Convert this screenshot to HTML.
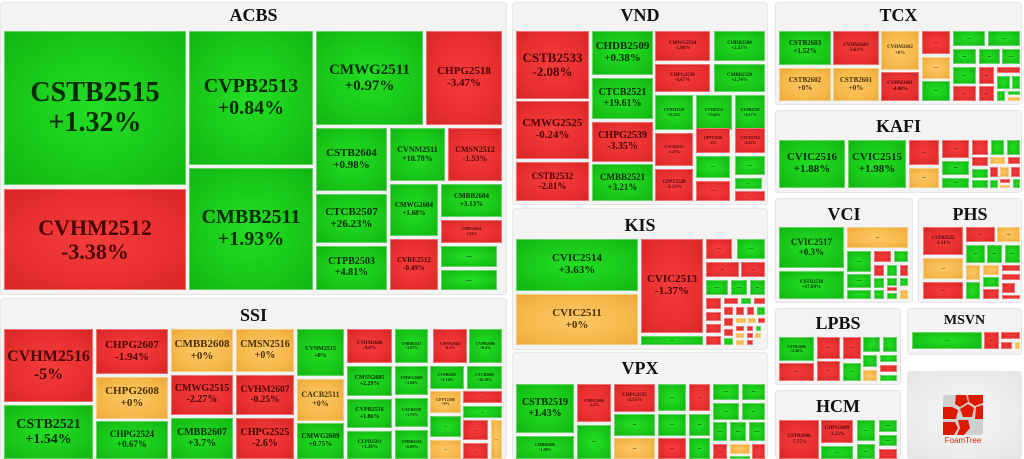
<!DOCTYPE html>
<html><head><meta charset="utf-8"><style>
body{margin:0;width:1024px;height:459px;background:#fff;position:relative;overflow:hidden;font-family:"Liberation Serif",serif;font-weight:bold}
.p{position:absolute;background:#f3f3f3;border:1px solid #e6e6e6;border-radius:3px;box-sizing:border-box}
.t{position:absolute;text-align:center;font-size:18px;color:#111;line-height:20px}
.c{position:absolute;display:flex;align-items:center;justify-content:center;text-align:center;line-height:1.08;box-sizing:border-box;border:1px solid rgba(255,255,255,.35);font-size:5px;overflow:hidden;white-space:nowrap}
.g{background:radial-gradient(ellipse at center,#24de24 0%,#19c819 60%,#12b512 100%);color:#042a04}
.r{background:radial-gradient(ellipse at center,#f43c3c 0%,#e83030 60%,#d92626 100%);color:#4a0505}
.y{background:radial-gradient(ellipse at center,#fdc866 0%,#f6b94c 60%,#eeaa3c 100%);color:#4a3005}
</style></head><body>
<!-- panels -->
<div class="p" style="left:0;top:2px;width:507px;height:293px"></div>
<div class="t" style="left:0;top:5px;width:507px">ACBS</div>
<div class="p" style="left:0;top:298px;width:507px;height:161px"></div>
<div class="t" style="left:0;top:305px;width:507px">SSI</div>
<div class="p" style="left:512px;top:2px;width:256px;height:203px"></div>
<div class="t" style="left:512px;top:5px;width:256px">VND</div>
<div class="p" style="left:512px;top:208px;width:256px;height:142px"></div>
<div class="t" style="left:512px;top:215px;width:256px">KIS</div>
<div class="p" style="left:512px;top:352px;width:256px;height:107px"></div>
<div class="t" style="left:512px;top:358px;width:256px">VPX</div>
<div class="p" style="left:775px;top:2px;width:247px;height:103px"></div>
<div class="t" style="left:775px;top:5px;width:247px">TCX</div>
<div class="p" style="left:775px;top:110px;width:247px;height:83px"></div>
<div class="t" style="left:775px;top:116px;width:247px">KAFI</div>
<div class="p" style="left:775px;top:198px;width:138px;height:105px"></div>
<div class="t" style="left:775px;top:204px;width:138px">VCI</div>
<div class="p" style="left:918px;top:198px;width:104px;height:105px"></div>
<div class="t" style="left:918px;top:204px;width:104px">PHS</div>
<div class="p" style="left:775px;top:308px;width:126px;height:77px"></div>
<div class="t" style="left:775px;top:313px;width:126px">LPBS</div>
<div class="p" style="left:907px;top:308px;width:115px;height:47px"></div>
<div class="t" style="left:907px;top:311px;width:115px;font-size:14px">MSVN</div>
<div class="p" style="left:775px;top:390px;width:126px;height:69px"></div>
<div class="t" style="left:775px;top:396px;width:126px">HCM</div>
<div class="p" style="left:907px;top:371px;width:115px;height:88px;background:radial-gradient(ellipse at center,#f6f6f6,#e6e6e6)"></div>

<!-- ACBS -->
<div class="c g" style="left:4px;top:31px;width:182px;height:154px;font-size:28px">CSTB2515<br>+1.32%</div>
<div class="c r" style="left:4px;top:189px;width:182px;height:101px;font-size:22px">CVHM2512<br>-3.38%</div>
<div class="c g" style="left:189px;top:31px;width:124px;height:134px;font-size:20px">CVPB2513<br>+0.84%</div>
<div class="c g" style="left:189px;top:168px;width:124px;height:122px;font-size:20px">CMBB2511<br>+1.93%</div>
<div class="c g" style="left:316px;top:31px;width:107px;height:94px;font-size:15px">CMWG2511<br>+0.97%</div>
<div class="c r" style="left:426px;top:31px;width:76px;height:94px;font-size:11px">CHPG2518<br>-3.47%</div>
<div class="c g" style="left:316px;top:128px;width:71px;height:63px;font-size:11px">CSTB2604<br>+0.98%</div>
<div class="c g" style="left:390px;top:128px;width:55px;height:53px;font-size:8px">CVNM2511<br>+10.78%</div>
<div class="c r" style="left:448px;top:128px;width:54px;height:53px;font-size:8px">CMSN2512<br>-1.53%</div>
<div class="c g" style="left:316px;top:194px;width:71px;height:49px;font-size:11px">CTCB2507<br>+26.23%</div>
<div class="c g" style="left:316px;top:246px;width:71px;height:44px;font-size:10px">CTPB2503<br>+4.81%</div>
<div class="c g" style="left:390px;top:184px;width:48px;height:52px;font-size:7px">CMWG2604<br>+1.68%</div>
<div class="c r" style="left:390px;top:239px;width:48px;height:51px;font-size:7px">CVRE2512<br>-0.49%</div>
<div class="c g" style="left:441px;top:184px;width:61px;height:33px;font-size:7px">CMBB2604<br>+3.13%</div>
<div class="c r" style="left:441px;top:220px;width:61px;height:23px;font-size:4px">CHPG2604<br>-5.16%</div>
<div class="c g" style="left:441px;top:246px;width:56px;height:21px;font-size:6px">...</div>
<div class="c g" style="left:441px;top:270px;width:56px;height:20px;font-size:6px">...</div>

<!-- SSI -->
<div class="c r" style="left:4px;top:329px;width:89px;height:73px;font-size:16px">CVHM2516<br>-5%</div>
<div class="c g" style="left:4px;top:405px;width:89px;height:54px;font-size:14px">CSTB2521<br>+1.54%</div>
<div class="c r" style="left:96px;top:329px;width:72px;height:45px;font-size:11px">CHPG2607<br>-1.94%</div>
<div class="c y" style="left:96px;top:377px;width:72px;height:42px;font-size:11px">CHPG2608<br>+0%</div>
<div class="c g" style="left:96px;top:421px;width:72px;height:38px;font-size:9px">CHPG2524<br>+0.67%</div>
<div class="c y" style="left:171px;top:329px;width:62px;height:43px;font-size:11px">CMBB2608<br>+0%</div>
<div class="c r" style="left:171px;top:375px;width:62px;height:40px;font-size:10px">CMWG2515<br>-2.27%</div>
<div class="c g" style="left:171px;top:418px;width:62px;height:41px;font-size:10px">CMBB2607<br>+3.7%</div>
<div class="c y" style="left:236px;top:329px;width:58px;height:43px;font-size:10px">CMSN2516<br>+0%</div>
<div class="c r" style="left:236px;top:375px;width:58px;height:40px;font-size:9.5px">CVHM2607<br>-0.25%</div>
<div class="c r" style="left:236px;top:418px;width:58px;height:41px;font-size:10px">CHPG2525<br>-2.6%</div>
<div class="c g" style="left:297px;top:329px;width:47px;height:47px;font-size:6px">CVNM2515<br>+0%</div>
<div class="c y" style="left:297px;top:379px;width:47px;height:42px;font-size:8px">CACB2511<br>+0%</div>
<div class="c g" style="left:297px;top:423px;width:47px;height:36px;font-size:7px">CMWG2609<br>+0.75%</div>
<div class="c r" style="left:347px;top:329px;width:45px;height:34px">CVHM2606<br>-9.6%</div>
<div class="c g" style="left:347px;top:366px;width:45px;height:30px;font-size:6px">CMSN2605<br>+2.29%</div>
<div class="c g" style="left:347px;top:399px;width:45px;height:29px;font-size:6px">CVPB2516<br>+1.86%</div>
<div class="c g" style="left:347px;top:431px;width:45px;height:28px">CLPB2503<br>+1.38%</div>
<div class="c g" style="left:395px;top:329px;width:33px;height:34px;font-size:4px">CMBB2517<br>+3.07%</div>
<div class="c g" style="left:395px;top:366px;width:33px;height:29px;font-size:4px">CMWG2608<br>+1.64%</div>
<div class="c g" style="left:395px;top:398px;width:33px;height:29px;font-size:4px">CACB2510<br>+1.75%</div>
<div class="c g" style="left:395px;top:430px;width:33px;height:29px;font-size:4px">CMBB2516<br>+6.09%</div>
<div class="c r" style="left:433px;top:329px;width:34px;height:34px;font-size:4px">CMSN2604<br>-6.3%</div>
<div class="c g" style="left:469px;top:329px;width:33px;height:34px;font-size:4px">CVPB2606<br>+8.4%</div>
<div class="c g" style="left:430px;top:366px;width:34px;height:23px;font-size:4px">CVPB2605<br>+1.14%</div>
<div class="c g" style="left:467px;top:366px;width:35px;height:23px;font-size:4px">CTCB2605<br>+16.59%</div>
<div class="c y" style="left:430px;top:391px;width:31px;height:22px;font-size:4px">CFPT2508<br>+0%</div>
<div class="c r" style="left:463px;top:391px;width:39px;height:12px;font-size:4px">...</div>
<div class="c g" style="left:463px;top:406px;width:39px;height:12px;font-size:4px">...</div>
<div class="c g" style="left:430px;top:416px;width:31px;height:21px;font-size:4px">...</div>
<div class="c r" style="left:463px;top:420px;width:25px;height:20px;font-size:4px">...</div>
<div class="c y" style="left:491px;top:420px;width:11px;height:39px;font-size:4px">...</div>
<div class="c y" style="left:430px;top:440px;width:31px;height:19px;font-size:4px">...</div>
<div class="c r" style="left:463px;top:443px;width:25px;height:16px;font-size:4px">...</div>

<!-- VND -->
<div class="c r" style="left:516px;top:31px;width:73px;height:68px;font-size:13px">CSTB2533<br>-2.08%</div>
<div class="c r" style="left:516px;top:101px;width:73px;height:58px;font-size:11px">CMWG2525<br>-0.24%</div>
<div class="c r" style="left:516px;top:162px;width:73px;height:39px;font-size:9px">CSTB2532<br>-2.81%</div>
<div class="c g" style="left:592px;top:31px;width:61px;height:44px;font-size:11px">CHDB2509<br>+0.38%</div>
<div class="c g" style="left:592px;top:78px;width:61px;height:41px;font-size:10px">CTCB2521<br>+19.61%</div>
<div class="c r" style="left:592px;top:122px;width:61px;height:40px;font-size:10px">CHPG2539<br>-3.35%</div>
<div class="c g" style="left:592px;top:164px;width:61px;height:37px;font-size:9px">CMBB2521<br>+3.21%</div>
<div class="c r" style="left:655px;top:31px;width:55px;height:30px">CMWG2524<br>-5.06%</div>
<div class="c g" style="left:714px;top:31px;width:51px;height:30px">CHDB2508<br>+2.55%</div>
<div class="c r" style="left:655px;top:64px;width:55px;height:28px">CHPG2538<br>-6.67%</div>
<div class="c g" style="left:714px;top:64px;width:51px;height:28px">CMBB2520<br>+2.74%</div>
<div class="c g" style="left:655px;top:95px;width:38px;height:35px;font-size:4px">CVNM2520<br>+0.74%</div>
<div class="c g" style="left:696px;top:95px;width:36px;height:35px;font-size:4px">CVIB2513<br>+3.64%</div>
<div class="c g" style="left:735px;top:95px;width:30px;height:35px;font-size:4px">CVPB2528<br>+4.17%</div>
<div class="c r" style="left:655px;top:133px;width:38px;height:33px;font-size:4px">CACB2515<br>-2.27%</div>
<div class="c r" style="left:655px;top:169px;width:38px;height:32px">CFPT2528<br>-3.13%</div>
<div class="c r" style="left:696px;top:128px;width:34px;height:25px;font-size:4px">CFPT2526<br>-3%</div>
<div class="c r" style="left:735px;top:128px;width:30px;height:25px;font-size:4px">CACB2514<br>-2.22%</div>
<div class="c g" style="left:696px;top:156px;width:34px;height:22px">...</div>
<div class="c g" style="left:735px;top:156px;width:30px;height:19px">...</div>
<div class="c r" style="left:696px;top:181px;width:34px;height:20px">...</div>
<div class="c g" style="left:735px;top:178px;width:27px;height:11px;font-size:4px">...</div>
<div class="c r" style="left:735px;top:191px;width:30px;height:10px;font-size:4px">...</div>

<!-- KIS -->
<div class="c g" style="left:516px;top:239px;width:122px;height:52px;font-size:11px">CVIC2514<br>+3.63%</div>
<div class="c y" style="left:516px;top:294px;width:122px;height:51px;font-size:11px">CVIC2511<br>+0%</div>
<div class="c r" style="left:641px;top:239px;width:62px;height:94px;font-size:11px">CVIC2513<br>-1.37%</div>
<div class="c g" style="left:641px;top:336px;width:62px;height:9px;font-size:4px">...</div>
<div class="c r" style="left:706px;top:239px;width:26px;height:20px">...</div>
<div class="c g" style="left:737px;top:239px;width:28px;height:20px">...</div>
<div class="c r" style="left:706px;top:262px;width:33px;height:15px">...</div>
<div class="c r" style="left:741px;top:262px;width:24px;height:15px">...</div>
<div class="c g" style="left:706px;top:280px;width:22px;height:15px">...</div>
<div class="c g" style="left:731px;top:280px;width:16px;height:15px">...</div>
<div class="c g" style="left:750px;top:280px;width:15px;height:15px">...</div>
<div class="c r" style="left:706px;top:298px;width:15px;height:11px"></div>
<div class="c r" style="left:724px;top:298px;width:14px;height:6px"></div>
<div class="c g" style="left:741px;top:298px;width:10px;height:6px"></div>
<div class="c r" style="left:754px;top:298px;width:11px;height:6px"></div>
<div class="c r" style="left:706px;top:312px;width:15px;height:9px"></div>
<div class="c r" style="left:724px;top:307px;width:9px;height:8px"></div>
<div class="c r" style="left:736px;top:307px;width:8px;height:8px"></div>
<div class="c r" style="left:747px;top:307px;width:7px;height:8px"></div>
<div class="c g" style="left:757px;top:307px;width:8px;height:8px"></div>
<div class="c r" style="left:724px;top:318px;width:9px;height:8px"></div>
<div class="c y" style="left:736px;top:318px;width:10px;height:5px"></div>
<div class="c y" style="left:748px;top:318px;width:8px;height:5px"></div>
<div class="c r" style="left:758px;top:318px;width:7px;height:5px"></div>
<div class="c r" style="left:706px;top:324px;width:15px;height:9px"></div>
<div class="c r" style="left:724px;top:329px;width:9px;height:7px"></div>
<div class="c r" style="left:736px;top:326px;width:8px;height:5px"></div>
<div class="c r" style="left:747px;top:326px;width:6px;height:5px"></div>
<div class="c g" style="left:756px;top:326px;width:5px;height:5px"></div>
<div class="c r" style="left:706px;top:336px;width:15px;height:9px"></div>
<div class="c g" style="left:724px;top:338px;width:9px;height:7px"></div>
<div class="c y" style="left:736px;top:333px;width:8px;height:5px"></div>
<div class="c r" style="left:747px;top:333px;width:6px;height:5px"></div>
<div class="c y" style="left:755px;top:333px;width:6px;height:5px"></div>
<div class="c y" style="left:736px;top:340px;width:8px;height:5px"></div>
<div class="c r" style="left:747px;top:340px;width:6px;height:5px"></div>

<!-- VPX -->
<div class="c g" style="left:516px;top:384px;width:58px;height:49px;font-size:10px">CSTB2519<br>+1.43%</div>
<div class="c g" style="left:516px;top:436px;width:58px;height:23px;font-size:4px">CMBB2606<br>+1.98%</div>
<div class="c r" style="left:577px;top:384px;width:34px;height:38px;font-size:4px">CHPG2606<br>-2.2%</div>
<div class="c g" style="left:577px;top:425px;width:34px;height:34px">...</div>
<div class="c r" style="left:614px;top:384px;width:41px;height:28px">CHPG2535<br>-2.15%</div>
<div class="c g" style="left:614px;top:414px;width:41px;height:22px">...</div>
<div class="c y" style="left:614px;top:438px;width:41px;height:21px">...</div>
<div class="c g" style="left:658px;top:384px;width:28px;height:27px">...</div>
<div class="c g" style="left:658px;top:414px;width:28px;height:22px">...</div>
<div class="c r" style="left:658px;top:438px;width:28px;height:21px">...</div>
<div class="c r" style="left:689px;top:384px;width:21px;height:27px">...</div>
<div class="c g" style="left:689px;top:414px;width:21px;height:22px">...</div>
<div class="c g" style="left:689px;top:438px;width:21px;height:21px">...</div>
<div class="c g" style="left:713px;top:384px;width:26px;height:16px">...</div>
<div class="c g" style="left:742px;top:384px;width:23px;height:16px">...</div>
<div class="c g" style="left:713px;top:403px;width:26px;height:17px">...</div>
<div class="c g" style="left:742px;top:403px;width:23px;height:17px">...</div>
<div class="c g" style="left:713px;top:422px;width:14px;height:19px">...</div>
<div class="c g" style="left:730px;top:422px;width:16px;height:19px">...</div>
<div class="c g" style="left:749px;top:422px;width:16px;height:19px">...</div>
<div class="c r" style="left:713px;top:444px;width:14px;height:15px">...</div>
<div class="c y" style="left:730px;top:444px;width:20px;height:10px"></div>
<div class="c g" style="left:730px;top:456px;width:20px;height:3px"></div>
<div class="c r" style="left:752px;top:444px;width:13px;height:15px"></div>

<!-- TCX -->
<div class="c g" style="left:779px;top:31px;width:52px;height:34px;font-size:7px">CSTB2603<br>+1.52%</div>
<div class="c y" style="left:779px;top:68px;width:52px;height:33px;font-size:7px">CSTB2602<br>+0%</div>
<div class="c r" style="left:833px;top:31px;width:46px;height:34px">CVHM2603<br>-3.62%</div>
<div class="c y" style="left:833px;top:68px;width:46px;height:33px;font-size:7px">CSTB2601<br>+0%</div>
<div class="c y" style="left:881px;top:31px;width:38px;height:39px">CVHM2602<br>+0%</div>
<div class="c r" style="left:881px;top:72px;width:38px;height:29px">CVHM2601<br>-4.88%</div>
<div class="c r" style="left:922px;top:31px;width:28px;height:23px">...</div>
<div class="c y" style="left:922px;top:57px;width:28px;height:22px">...</div>
<div class="c g" style="left:922px;top:81px;width:28px;height:20px">...</div>
<div class="c g" style="left:953px;top:31px;width:32px;height:15px">...</div>
<div class="c g" style="left:988px;top:31px;width:32px;height:15px">...</div>
<div class="c g" style="left:953px;top:49px;width:23px;height:15px">...</div>
<div class="c g" style="left:979px;top:49px;width:21px;height:15px">...</div>
<div class="c g" style="left:1002px;top:49px;width:18px;height:15px">...</div>
<div class="c g" style="left:953px;top:67px;width:23px;height:17px">...</div>
<div class="c r" style="left:979px;top:67px;width:15px;height:17px">...</div>
<div class="c r" style="left:997px;top:67px;width:23px;height:6px"></div>
<div class="c g" style="left:997px;top:76px;width:13px;height:13px"></div>
<div class="c g" style="left:1012px;top:76px;width:8px;height:13px"></div>
<div class="c r" style="left:953px;top:86px;width:23px;height:15px">...</div>
<div class="c r" style="left:979px;top:86px;width:15px;height:15px">...</div>
<div class="c g" style="left:997px;top:91px;width:8px;height:10px"></div>
<div class="c g" style="left:1008px;top:91px;width:12px;height:4px"></div>
<div class="c y" style="left:1008px;top:97px;width:12px;height:4px"></div>

<!-- KAFI -->
<div class="c g" style="left:779px;top:140px;width:66px;height:48px;font-size:11px">CVIC2516<br>+1.88%</div>
<div class="c g" style="left:848px;top:140px;width:58px;height:48px;font-size:11px">CVIC2515<br>+1.98%</div>
<div class="c r" style="left:909px;top:140px;width:30px;height:25px">...</div>
<div class="c y" style="left:909px;top:168px;width:30px;height:20px">...</div>
<div class="c r" style="left:942px;top:140px;width:27px;height:18px">...</div>
<div class="c g" style="left:942px;top:161px;width:27px;height:14px">...</div>
<div class="c g" style="left:942px;top:178px;width:27px;height:10px">...</div>
<div class="c r" style="left:972px;top:140px;width:16px;height:15px"></div>
<div class="c g" style="left:991px;top:140px;width:13px;height:15px"></div>
<div class="c g" style="left:1007px;top:140px;width:13px;height:15px"></div>
<div class="c r" style="left:972px;top:157px;width:16px;height:9px"></div>
<div class="c y" style="left:990px;top:157px;width:15px;height:7px"></div>
<div class="c r" style="left:1008px;top:157px;width:12px;height:7px"></div>
<div class="c g" style="left:972px;top:169px;width:16px;height:9px"></div>
<div class="c r" style="left:990px;top:167px;width:8px;height:10px"></div>
<div class="c y" style="left:1000px;top:167px;width:9px;height:10px"></div>
<div class="c r" style="left:1011px;top:167px;width:9px;height:10px"></div>
<div class="c g" style="left:972px;top:180px;width:16px;height:8px"></div>
<div class="c g" style="left:990px;top:180px;width:8px;height:8px"></div>
<div class="c r" style="left:1000px;top:179px;width:10px;height:4px"></div>
<div class="c y" style="left:1000px;top:185px;width:10px;height:3px"></div>
<div class="c g" style="left:1013px;top:179px;width:7px;height:9px"></div>

<!-- VCI -->
<div class="c g" style="left:779px;top:227px;width:65px;height:41px;font-size:9px">CVIC2517<br>+0.3%</div>
<div class="c g" style="left:779px;top:271px;width:65px;height:28px">CSTB2538<br>+17.09%</div>
<div class="c y" style="left:847px;top:227px;width:61px;height:21px">...</div>
<div class="c g" style="left:847px;top:251px;width:24px;height:21px">...</div>
<div class="c r" style="left:874px;top:251px;width:17px;height:11px"></div>
<div class="c g" style="left:894px;top:251px;width:14px;height:11px"></div>
<div class="c r" style="left:874px;top:265px;width:10px;height:11px"></div>
<div class="c g" style="left:887px;top:265px;width:10px;height:11px"></div>
<div class="c r" style="left:900px;top:265px;width:8px;height:11px"></div>
<div class="c g" style="left:847px;top:274px;width:24px;height:14px">...</div>
<div class="c g" style="left:874px;top:278px;width:10px;height:10px"></div>
<div class="c g" style="left:887px;top:278px;width:10px;height:8px"></div>
<div class="c g" style="left:900px;top:278px;width:8px;height:8px"></div>
<div class="c g" style="left:847px;top:290px;width:24px;height:9px"></div>
<div class="c g" style="left:874px;top:290px;width:10px;height:9px"></div>
<div class="c r" style="left:887px;top:287px;width:10px;height:4px"></div>
<div class="c g" style="left:887px;top:293px;width:10px;height:6px"></div>
<div class="c y" style="left:900px;top:290px;width:8px;height:9px"></div>

<!-- PHS -->
<div class="c r" style="left:923px;top:227px;width:40px;height:28px">CSTB2525<br>-3.31%</div>
<div class="c y" style="left:923px;top:258px;width:40px;height:21px">...</div>
<div class="c r" style="left:923px;top:282px;width:40px;height:17px">...</div>
<div class="c r" style="left:966px;top:227px;width:29px;height:15px">...</div>
<div class="c y" style="left:997px;top:227px;width:23px;height:15px">...</div>
<div class="c g" style="left:966px;top:245px;width:19px;height:18px">...</div>
<div class="c g" style="left:987px;top:245px;width:15px;height:18px">...</div>
<div class="c g" style="left:1005px;top:245px;width:15px;height:18px">...</div>
<div class="c y" style="left:966px;top:265px;width:14px;height:15px"></div>
<div class="c y" style="left:983px;top:265px;width:16px;height:10px"></div>
<div class="c r" style="left:1002px;top:265px;width:18px;height:6px"></div>
<div class="c r" style="left:1002px;top:274px;width:18px;height:6px"></div>
<div class="c g" style="left:983px;top:277px;width:16px;height:10px"></div>
<div class="c g" style="left:966px;top:282px;width:14px;height:17px"></div>
<div class="c r" style="left:983px;top:289px;width:16px;height:10px"></div>
<div class="c r" style="left:1002px;top:283px;width:13px;height:10px"></div>
<div class="c r" style="left:1002px;top:295px;width:18px;height:4px"></div>

<!-- LPBS -->
<div class="c g" style="left:779px;top:337px;width:35px;height:24px;font-size:4px">CSTB2606<br>+2.36%</div>
<div class="c r" style="left:779px;top:363px;width:35px;height:18px">...</div>
<div class="c r" style="left:817px;top:337px;width:23px;height:22px">...</div>
<div class="c r" style="left:843px;top:337px;width:18px;height:22px">...</div>
<div class="c r" style="left:817px;top:361px;width:23px;height:20px">...</div>
<div class="c g" style="left:843px;top:363px;width:18px;height:18px">...</div>
<div class="c g" style="left:863px;top:337px;width:17px;height:15px"></div>
<div class="c g" style="left:883px;top:337px;width:14px;height:15px"></div>
<div class="c g" style="left:863px;top:355px;width:14px;height:12px"></div>
<div class="c g" style="left:880px;top:355px;width:17px;height:7px"></div>
<div class="c r" style="left:880px;top:365px;width:17px;height:7px"></div>
<div class="c y" style="left:863px;top:370px;width:14px;height:11px"></div>
<div class="c g" style="left:880px;top:375px;width:17px;height:6px"></div>

<!-- MSVN -->
<div class="c g" style="left:912px;top:332px;width:70px;height:17px">...</div>
<div class="c r" style="left:984px;top:332px;width:15px;height:17px">...</div>
<div class="c r" style="left:1001px;top:332px;width:19px;height:7px"></div>
<div class="c r" style="left:1001px;top:342px;width:11px;height:7px"></div>
<div class="c y" style="left:1015px;top:342px;width:5px;height:7px"></div>

<!-- HCM -->
<div class="c r" style="left:779px;top:420px;width:40px;height:39px">CSTB2606<br>-7.75%</div>
<div class="c r" style="left:821px;top:420px;width:32px;height:23px">CHPG2609<br>-3.23%</div>
<div class="c g" style="left:821px;top:446px;width:32px;height:13px">...</div>
<div class="c g" style="left:857px;top:420px;width:18px;height:21px">...</div>
<div class="c g" style="left:857px;top:444px;width:18px;height:15px">...</div>
<div class="c g" style="left:879px;top:420px;width:18px;height:12px">...</div>
<div class="c g" style="left:879px;top:435px;width:18px;height:11px">...</div>
<div class="c r" style="left:879px;top:449px;width:18px;height:10px">...</div>

<!-- FoamTree logo -->
<svg style="position:absolute;left:940px;top:393px" width="46" height="52" viewBox="0 0 46 52">
<rect x="3" y="2" width="40" height="40" fill="#d0d0d0" rx="3"/>
<path d="M16 2h10l2 7-8 5-5-3z" fill="#dd1a00"/>
<path d="M28 2h15v8l-8 3-6-4z" fill="#dd1a00"/>
<path d="M3 14h9l6 3-2 9h-13z" fill="#dd1a00"/>
<path d="M20 16l8-5 6 4-2 9h-9z" fill="#dd1a00"/>
<path d="M36 14l7-2v14h-8z" fill="#dd1a00"/>
<path d="M3 29h12l3 6-4 7h-11z" fill="#dd1a00"/>
<path d="M18 27h10l2 8-6 7h-7l3-7z" fill="#dd1a00"/>
<text x="23" y="50" text-anchor="middle" font-family="Liberation Sans, sans-serif" font-size="8" font-weight="normal" fill="#dd2200">FoamTree</text>
</svg>
</body></html>
